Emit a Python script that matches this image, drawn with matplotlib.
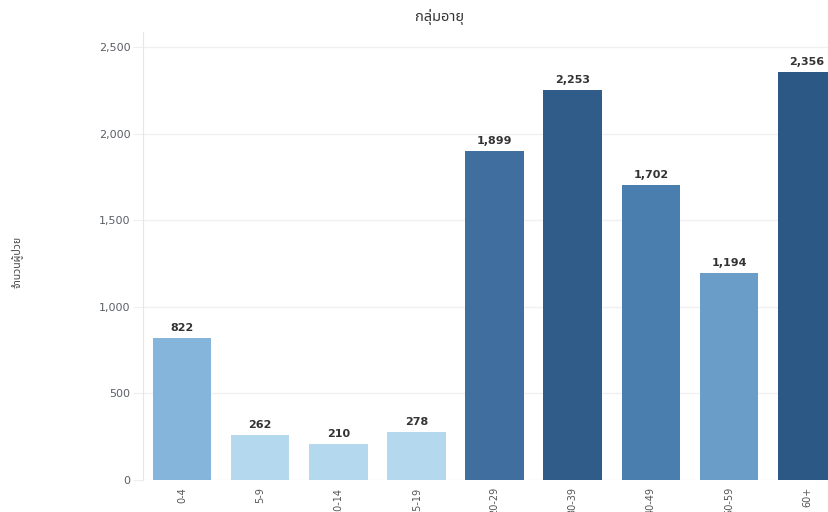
import matplotlib
matplotlib.use("Agg")
import matplotlib.pyplot as plt
from matplotlib.ticker import FuncFormatter

# ---------------- DATA ----------------
age_groups = ["0-4", "5-9", "10-14", "15-19", "20-29", "30-39", "40-49", "50-59", "60+"]
patients = [822, 262, 210, 278, 1899, 2253, 1702, 1194, 2356]
bar_colors = ["#85b5da", "#b4d8ee", "#b4d8ee", "#b4d8ee", "#3f6e9f",
              "#2f5c89", "#4a7eae", "#6a9ec8", "#2c5886"]

TITLE = "กลุ่มอายุ"
YLABEL = "จำนวนผู้ป่วย"
THAI_FONTS = ["Noto Sans Thai", "DejaVu Sans"]

plt.rcParams["font.family"] = ["DejaVu Sans"]

fig = plt.figure(figsize=(8.29, 5.12), dpi=100)
ax = fig.add_axes([143 / 829, 32 / 512, 1 - 143 / 829, (480 - 32) / 512])

x = list(range(len(age_groups)))
ax.bar(x, patients, width=0.75, color=bar_colors, zorder=2)

# value labels above bars
for xi, v in zip(x, patients):
    ax.text(xi, v + 28, f"{v:,}", ha="center", va="bottom",
            fontsize=8, fontweight="bold", color="#333333")

ax.set_xlim(-0.5, 8.28)
ax.set_ylim(0, 2586)
ax.set_yticks([0, 500, 1000, 1500, 2000, 2500])
ax.yaxis.set_major_formatter(FuncFormatter(lambda v, p: f"{int(v):,}"))
ax.grid(axis="y", color="#f0f0f0", linewidth=1, zorder=0)

ax.set_xticks(x)
ax.set_xticklabels(age_groups, rotation=90, fontsize=7, color="#555555")
ax.tick_params(axis="x", length=0, pad=5)
ax.tick_params(axis="y", length=7, color="#eeeeee", labelsize=8,
               labelcolor="#5a5f66", pad=2)

for side in ["top", "right", "bottom"]:
    ax.spines[side].set_visible(False)
ax.spines["left"].set_color("#e6e6e6")

fig.text(17 / 829, 1 - 262 / 512, YLABEL, rotation=90, ha="center", va="center",
         fontsize=7.5, color="#444444", family=THAI_FONTS)
fig.text(440 / 829, 1 - 17 / 512, TITLE, ha="center", va="center",
         fontsize=10.5, color="#333333", family=THAI_FONTS)

fig.savefig("out.png", dpi=100)
